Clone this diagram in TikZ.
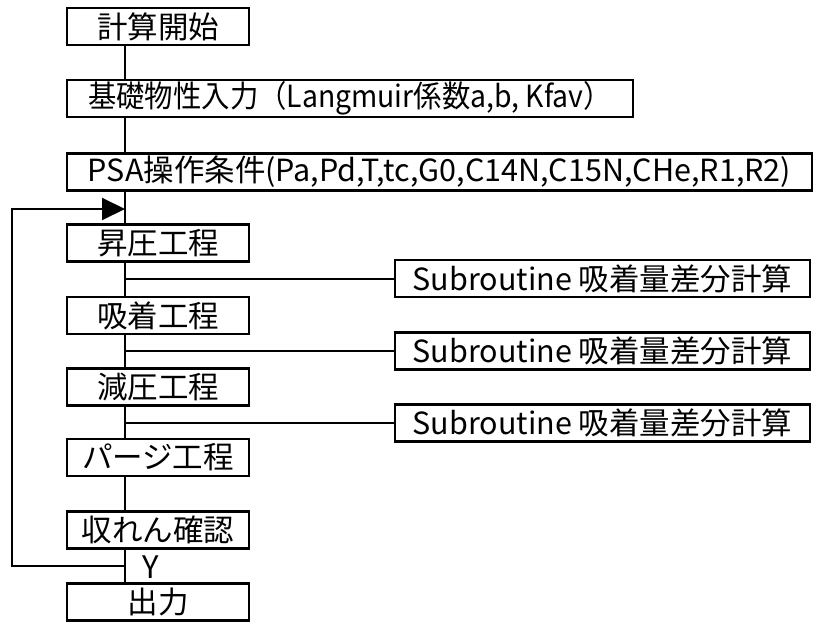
\documentclass[tikz,border=0pt]{standalone}
\usepackage{fontspec}
\setmainfont{Noto Sans CJK JP}
\usepackage{graphicx}
\usetikzlibrary{arrows.meta}
\tikzset{
  box/.style={draw, line width=2.4pt, rectangle, inner sep=0pt, minimum height=37pt, font=\fontsize{30.5}{30.5}\selectfont},
  conn/.style={line width=2pt},
}
\begin{document}
\begin{tikzpicture}[x=1pt,y=-1pt]
\useasboundingbox (0,0) rectangle (814,622);
\coordinate (sp) at (125,0);
\node[box, minimum width=182pt] (b1) at (158,26.5) {計算開始};
\node[box, minimum width=566pt] (b2) at (350,98.5) {\scalebox{0.93}[1]{基礎物性入力（Langmuir係数a,b,\ Kfav）}};
\node[box, minimum width=745pt] (b3) at (439.5,172) {PSA操作条件(Pa,Pd,T,tc,G0,C14N,C15N,CHe,R1,R2)};
\node[box, minimum width=182pt] (b4) at (158,243) {昇圧工程};
\node[box, minimum width=182pt] (b5) at (158,315.5) {吸着工程};
\node[box, minimum width=182pt] (b6) at (158,387) {減圧工程};
\node[box, minimum width=182pt] (b7) at (158,457.5) {パージ工程};
\node[box, minimum width=182pt] (b8) at (158,530) {収れん確認};
\node[box, minimum width=182pt] (b9) at (158,602) {出力};
\node[box, minimum width=415pt] (s1) at (602.5,278.5) {Subroutine 吸着量差分計算};
\node[box, minimum width=415pt] (s2) at (602.5,351) {Subroutine 吸着量差分計算};
\node[box, minimum width=415pt] (s3) at (602.5,423) {Subroutine 吸着量差分計算};
\node[font=\fontsize{31}{31}\selectfont, inner sep=0pt] (y) at (151,567) {Y};
\coordinate (lb) at (12,566);
\coordinate (lt) at (12,209);
\draw[conn] (b1.south -| sp) -- (b2.north -| sp);
\draw[conn] (b2.south -| sp) -- (b3.north -| sp);
\draw[conn] (b3.south -| sp) -- (b4.north -| sp);
\draw[conn] (b4.south -| sp) -- (b5.north -| sp);
\draw[conn] (b5.south -| sp) -- (b6.north -| sp);
\draw[conn] (b6.south -| sp) -- (b7.north -| sp);
\draw[conn] (b7.south -| sp) -- (b8.north -| sp);
\draw[conn] (b8.south -| sp) -- (b9.north -| sp);
\draw[conn] (s1.west -| sp) -- (s1.west);
\draw[conn] (s2.west -| sp) -- (s2.west);
\draw[conn] (s3.west -| sp) -- (s3.west);
\draw[conn, -{Triangle[length=23pt,width=22pt]}] (lb -| sp) -- (lb) -- (lt) -- (lt -| sp);
\end{tikzpicture}
\end{document}
